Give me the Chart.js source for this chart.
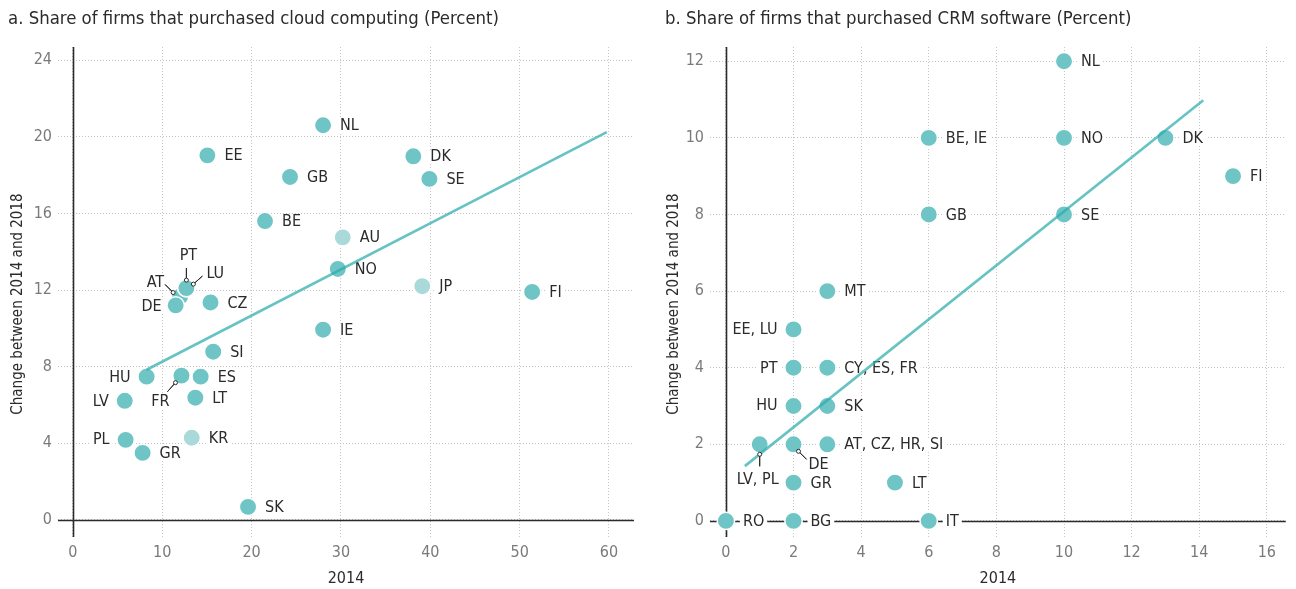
<!DOCTYPE html>
<html>
<head>
<meta charset="utf-8">
<script src="https://cdn.jsdelivr.net/npm/chart.js@4.4.1/dist/chart.umd.min.js"></script>
<style>
  html, body { margin: 0; padding: 0; background: #fff; }
  body { width: 1296px; height: 589px; position: relative; overflow: hidden; }
  .panel { position: absolute; top: 0; width: 648px; height: 589px; }
</style>
</head>
<body>
<div class="panel" style="left:0"><canvas id="cloud" width="648" height="589"></canvas></div>
<div class="panel" style="left:648px"><canvas id="crm" width="648" height="589"></canvas></div>
<script>
// ---- Panel a: cloud computing ----
const cloudCountries = ['SK','GR','PL','KR','LV','LT','HU','FR','ES','SI','IE','CZ','AT','PT','LU','DE',
                        'NO','JP','FI','AU','BE','SE','GB','DK','EE','NL'];
const cloud2014 =      [19.6, 7.8, 5.9, 13.3, 5.8, 13.7, 8.25, 12.15, 14.3, 15.7, 28.0, 15.4, 12.0, 12.7, 12.7, 11.5,
                        29.65, 39.1, 51.4, 30.2, 21.5, 39.9, 24.3, 38.1, 15.05, 28.0];
const cloudChange =    [0.68, 3.5, 4.18, 4.29, 6.22, 6.38, 7.48, 7.53, 7.48, 8.78, 9.93, 11.35, 11.66, 12.1, 12.1, 11.2,
                        13.1, 12.2, 11.9, 14.75, 15.6, 17.8, 17.9, 18.98, 19.03, 20.6];
const cloudNonEU = ['KR','JP','AU'];
const cloudFitX = [8.25, 59.75];
const cloudFitY = [7.84, 20.24];
const cloudXTicks = [0, 10, 20, 30, 40, 50, 60];
const cloudYTicks = [0, 4, 8, 12, 16, 20, 24];

// ---- Panel b: CRM software ----
const crmCountries = ['RO','BG','IT','GR','LT','LV, PL','DE','AT, CZ, HR, SI','HU','SK','PT','CY, ES, FR',
                      'EE, LU','MT','GB','SE','BE, IE','NO','DK','FI','NL'];
const crm2014 =      [0, 2, 6, 2, 5, 1, 2, 3, 2, 3, 2, 3, 2, 3, 6, 10, 6, 10, 13, 15, 10];
const crmChange =    [0, 0, 0, 1, 1, 2, 2, 2, 3, 3, 4, 4, 5, 6, 8, 8, 10, 10, 10, 9, 12];
const crmFitX = [0.56, 14.12];
const crmFitY = [1.43, 10.98];
const crmXTicks = [0, 2, 4, 6, 8, 10, 12, 14, 16];
const crmYTicks = [0, 2, 4, 6, 8, 10, 12];

const yTitle = 'Change between 2014 and 2018';
const xTitle = '2014';

// ---- Styling ----
const FONT = "'Liberation Sans Narrow', 'DejaVu Sans Condensed', 'Roboto Condensed', sans-serif";
const DOT = '#6fc5c5';
const DOT_LIGHT = '#a9d9d9';
const FIT = 'rgba(45,172,172,0.72)';
const INK = '#2b2b2b';

// Label offsets from the dot centre; anything not listed sits to the right.
const cloudLabelPos = {
  DE: { dx: -14, dy: 1, align: 'right' },
  HU: { dx: -16, dy: 1, align: 'right' },
  LV: { dx: -16, dy: 1, align: 'right' },
  PL: { dx: -16, dy: 0, align: 'right' },
  PT: { dx: 2, dy: -32, align: 'center', leader: [[0, -20], [0, -8]] },
  LU: { dx: 20, dy: -14, align: 'left', leader: [[16, -12], [7, -4]] },
  AT: { dx: -16, dy: -14, align: 'right', leader: [[-15, -12], [-7, -4]] },
  FR: { dx: -21, dy: 26, align: 'center', leader: [[-14, 16], [-6, 7]] }
};
const crmLabelPos = {
  'EE, LU': { dx: -16, dy: 0, align: 'right' },
  'PT': { dx: -16, dy: 1, align: 'right' },
  'HU': { dx: -16, dy: 0, align: 'right' },
  'LV, PL': { dx: -2, dy: 36, align: 'center', leader: [[0, 22], [0, 10]] },
  'DE': { dx: 15, dy: 21, align: 'left', leader: [[13, 15], [5, 7]] }
};

// Zero axes, vertical axis title and country labels, all under the dots
const underlay = {
  id: 'underlay',
  beforeDatasetsDraw(chart, args, opts) {
    const { ctx, chartArea: a, scales: { x, y } } = chart;
    const x0 = Math.round(x.getPixelForValue(0)) + 0.5;
    const y0 = Math.round(y.getPixelForValue(0)) + 0.5;
    ctx.save();
    ctx.strokeStyle = INK;
    ctx.lineWidth = 1.6;
    ctx.beginPath();
    ctx.moveTo(x0, a.top); ctx.lineTo(x0, a.bottom);
    ctx.moveTo(a.left, y0); ctx.lineTo(a.right, y0);
    ctx.stroke();

    // vertical axis title
    ctx.save();
    ctx.translate(opts.titleX, 304);
    ctx.rotate(-Math.PI / 2);
    ctx.font = `15px ${FONT}`;
    ctx.fillStyle = INK;
    ctx.textAlign = 'center';
    ctx.textBaseline = 'middle';
    ctx.fillText(yTitle, 0, 0);
    ctx.restore();

    ctx.font = `16px ${FONT}`;
    ctx.textBaseline = 'middle';
    opts.names.forEach((name, i) => {
      const px = x.getPixelForValue(opts.xs[i]);
      const py = y.getPixelForValue(opts.ys[i]);
      const p = opts.pos[name] || { dx: 17, dy: 1, align: 'left' };
      const tx = px + p.dx, ty = py + p.dy;
      const w = ctx.measureText(name).width;
      const left = p.align === 'left' ? tx : p.align === 'right' ? tx - w : tx - w / 2;
      ctx.fillStyle = '#fff';
      ctx.fillRect(left - 3, ty - 7, w + 6, 14);
      ctx.fillStyle = INK;
      ctx.textAlign = p.align;
      ctx.fillText(name, tx, ty);
      if (p.leader) {
        const [s, e] = p.leader;
        ctx.strokeStyle = INK;
        ctx.lineWidth = 1;
        ctx.beginPath();
        ctx.moveTo(px + s[0], py + s[1]);
        ctx.lineTo(px + e[0], py + e[1]);
        ctx.stroke();
      }
    });
    ctx.restore();
  },
  // small rings where the leader lines meet the dots
  afterDatasetsDraw(chart, args, opts) {
    const { ctx, scales: { x, y } } = chart;
    ctx.save();
    ctx.strokeStyle = INK;
    ctx.lineWidth = 1;
    opts.names.forEach((name, i) => {
      const p = opts.pos[name];
      if (!p || !p.leader) return;
      const px = x.getPixelForValue(opts.xs[i]);
      const py = y.getPixelForValue(opts.ys[i]);
      const [s, e] = p.leader;
      ctx.beginPath();
      ctx.moveTo(px + s[0], py + s[1]);
      ctx.lineTo(px + e[0], py + e[1]);
      ctx.stroke();
      ctx.beginPath();
      ctx.arc(px + e[0], py + e[1], 2, 0, Math.PI * 2);
      ctx.fillStyle = '#fff';
      ctx.fill();
      ctx.stroke();
    });
    ctx.restore();
  }
};

function makeChart(id, cfg) {
  const pts = cfg.xs.map((v, i) => ({ x: v, y: cfg.ys[i] }));
  const fit = cfg.fitX.map((v, i) => ({ x: v, y: cfg.fitY[i] }));
  const colors = cfg.names.map(n => (cfg.light || []).includes(n) ? DOT_LIGHT : DOT);
  const tickFont = { family: FONT, size: 16 };
  const gridCommon = { color: '#c2c2c2', lineWidth: 1, drawTicks: false };
  return new Chart(document.getElementById(id), {
    type: 'scatter',
    data: {
      datasets: [
        {
          type: 'line', data: fit, borderColor: FIT, borderWidth: 2.6,
          pointRadius: 0, fill: false, order: 0
        },
        {
          data: pts, backgroundColor: colors, borderColor: '#fff', borderWidth: 1.5,
          pointRadius: 8.7, pointHoverRadius: 8.7, order: 1
        }
      ]
    },
    options: {
      responsive: false,
      animation: false,
      devicePixelRatio: 1,
      layout: { padding: cfg.padding },
      plugins: {
        legend: { display: false },
        tooltip: { enabled: false },
        title: {
          display: true, text: cfg.title, align: 'start', color: INK,
          font: { family: FONT, size: 18.4, weight: 'normal' },
          padding: { top: 8, bottom: 17 }
        },
        underlay: { names: cfg.names, xs: cfg.xs, ys: cfg.ys, pos: cfg.pos, titleX: cfg.yTitleX }
      },
      scales: {
        x: {
          type: 'linear', min: cfg.xMin, max: cfg.xMax,
          afterBuildTicks: s => { s.ticks = cfg.xTicks.map(v => ({ value: v })); },
          afterFit: s => { s.height = 52; },
          grid: gridCommon,
          border: { display: false, dash: [1, 2] },
          ticks: { color: '#7a7a7a', font: tickFont, padding: 6 },
          title: { display: true, text: xTitle, color: INK, font: { family: FONT, size: 16 }, padding: { top: 0, bottom: 1 } }
        },
        y: {
          type: 'linear', min: cfg.yMin, max: cfg.yMax,
          afterBuildTicks: s => { s.ticks = cfg.yTicks.map(v => ({ value: v })); },
          afterFit: s => { s.width = cfg.yWidth; },
          grid: gridCommon,
          border: { display: false, dash: [1, 2] },
          ticks: { color: '#7a7a7a', font: tickFont, padding: 6 }
        }
      }
    },
    plugins: [underlay]
  });
}

makeChart('cloud', {
  title: 'a. Share of firms that purchased cloud computing (Percent)',
  names: cloudCountries, xs: cloud2014, ys: cloudChange, light: cloudNonEU,
  fitX: cloudFitX, fitY: cloudFitY, xTicks: cloudXTicks, yTicks: cloudYTicks,
  xMin: -1.67, xMax: 62.8, yMin: -0.89, yMax: 24.68,
  padding: { left: 8, right: 14, top: 0, bottom: 0 }, yWidth: 50, pos: cloudLabelPos, yTitleX: 18
});

makeChart('crm', {
  title: 'b. Share of firms that purchased CRM software (Percent)',
  names: crmCountries, xs: crm2014, ys: crmChange,
  fitX: crmFitX, fitY: crmFitY, xTicks: crmXTicks, yTicks: crmYTicks,
  xMin: -0.47, xMax: 16.56, yMin: -0.42, yMax: 12.37,
  padding: { left: 17, right: 6, top: 0, bottom: 0 }, yWidth: 45, pos: crmLabelPos, yTitleX: 26
});
</script>
</body>
</html>
